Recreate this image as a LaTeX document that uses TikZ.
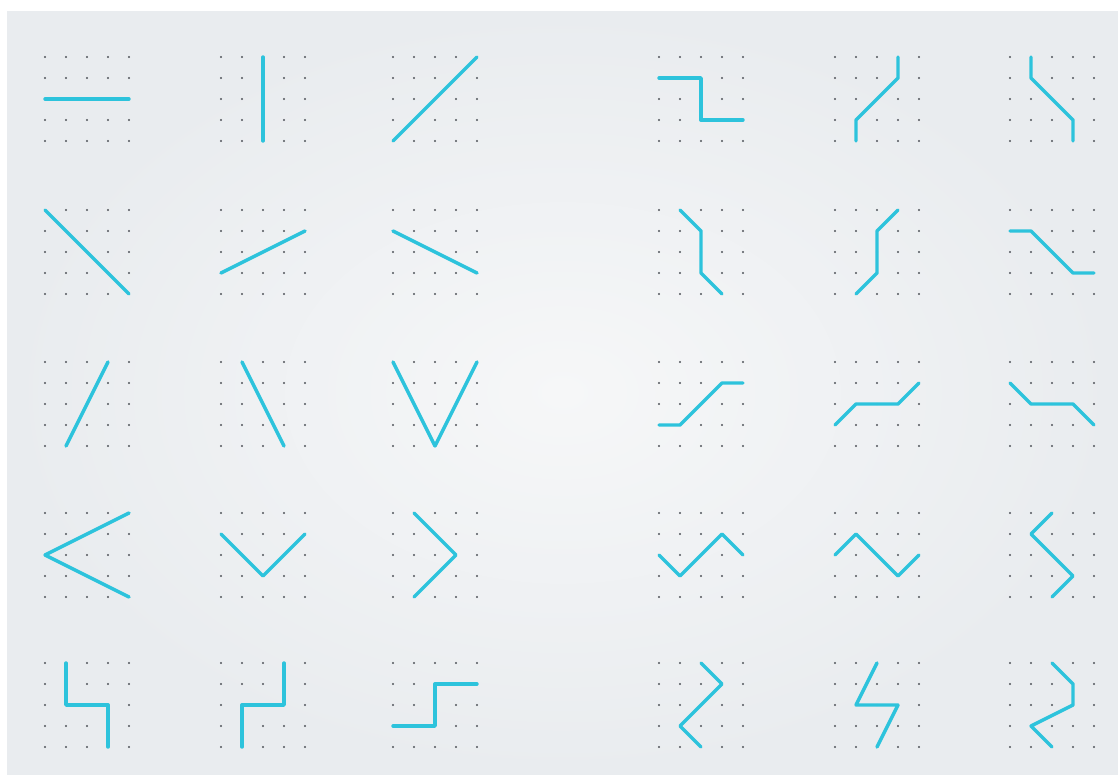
\documentclass[tikz,border=0pt]{standalone}
\usetikzlibrary{calc}
\definecolor{paper}{RGB}{233,236,239}
\definecolor{paperlight}{RGB}{246,247,248}
\definecolor{ink}{RGB}{45,195,220}
\definecolor{dotc}{RGB}{80,84,90}

% 5x5 dot grid, named <panel>-<col><row>
\newcommand\dotgrid[3]{%
    \foreach \c in {0,...,4}{
        \foreach \r in {0,...,4}{
            \coordinate (#1-\c\r) at ({#2+21*\c},{#3+21*\r});
            \fill[griddot] (#1-\c\r) circle (1.2);
        }
    }%
}

\begin{document}
\begin{tikzpicture}[
        x=1pt, y=-1pt,
        griddot/.style={fill=dotc},
        wire/.style={draw=ink, line width=3.4pt, line cap=round, line join=round},
    ]
    \fill[white] (0,0) rectangle (1118,774);
    \shade[inner color=paperlight, outer color=paper] (7,11) rectangle (1118,774);
    \useasboundingbox (0,0) rectangle (1118,774);

    % grids
    \foreach \n/\x in {1/45,2/221,3/393,4/659,5/835,6/1010}{
        \dotgrid{A\n}{\x}{57}
        \dotgrid{B\n}{\x}{210}
        \dotgrid{C\n}{\x}{362}
        \dotgrid{D\n}{\x}{513}
        \dotgrid{E\n}{\x}{663}
    }

    % row A
    \draw[wire] (A1-02) -- (A1-42);
    \draw[wire] (A2-20) -- (A2-24);
    \draw[wire] (A3-04) -- (A3-40);
    \draw[wire] (A4-01) -- (A4-21) -- (A4-23) -- (A4-43);
    \draw[wire] (A5-30) -- (A5-31) -- (A5-13) -- (A5-14);
    \draw[wire] (A6-10) -- (A6-11) -- (A6-33) -- (A6-34);
    % row B
    \draw[wire] (B1-00) -- (B1-44);
    \draw[wire] (B2-03) -- (B2-41);
    \draw[wire] (B3-01) -- (B3-43);
    \draw[wire] (B4-10) -- (B4-21) -- (B4-23) -- (B4-34);
    \draw[wire] (B5-30) -- (B5-21) -- (B5-23) -- (B5-14);
    \draw[wire] (B6-01) -- (B6-11) -- (B6-33) -- (B6-43);
    % row C
    \draw[wire] (C1-14) -- (C1-30);
    \draw[wire] (C2-10) -- (C2-34);
    \draw[wire] (C3-00) -- (C3-24) -- (C3-40);
    \draw[wire] (C4-03) -- (C4-13) -- (C4-31) -- (C4-41);
    \draw[wire] (C5-03) -- (C5-12) -- (C5-32) -- (C5-41);
    \draw[wire] (C6-01) -- (C6-12) -- (C6-32) -- (C6-43);
    % row D
    \draw[wire] (D1-40) -- (D1-02) -- (D1-44);
    \draw[wire] (D2-01) -- (D2-23) -- (D2-41);
    \draw[wire] (D3-10) -- (D3-32) -- (D3-14);
    \draw[wire] (D4-02) -- (D4-13) -- (D4-31) -- (D4-42);
    \draw[wire] (D5-02) -- (D5-11) -- (D5-33) -- (D5-42);
    \draw[wire] (D6-20) -- (D6-11) -- (D6-33) -- (D6-24);
    % row E
    \draw[wire] (E1-10) -- (E1-12) -- (E1-32) -- (E1-34);
    \draw[wire] (E2-30) -- (E2-32) -- (E2-12) -- (E2-14);
    \draw[wire] (E3-41) -- (E3-21) -- (E3-23) -- (E3-03);
    \draw[wire] (E4-20) -- (E4-31) -- (E4-13) -- (E4-24);
    \draw[wire] (E5-20) -- (E5-12) -- (E5-32) -- (E5-24);
    \draw[wire] (E6-20) -- (E6-31) -- (E6-32) -- (E6-13) -- (E6-24);
\end{tikzpicture}
\end{document}
